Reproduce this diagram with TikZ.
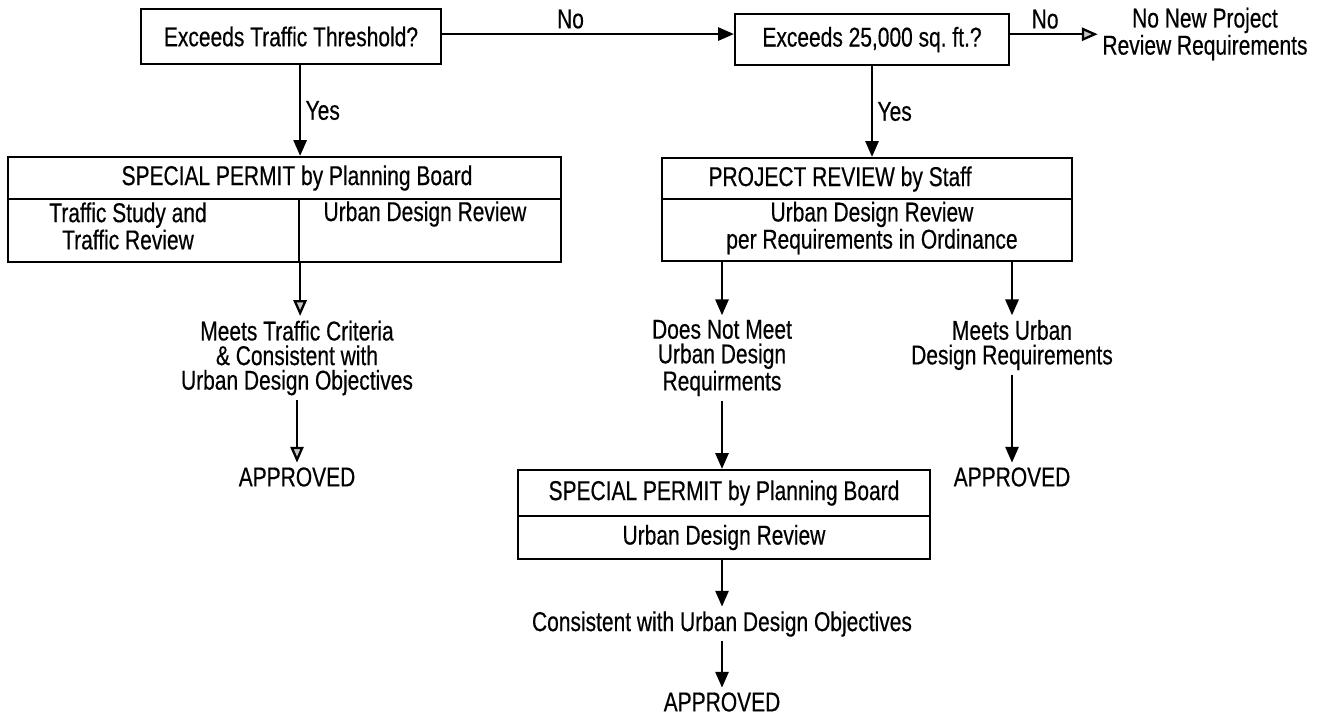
\documentclass[tikz,border=0pt]{standalone}
\usepackage{fontspec}
\setmainfont[FakeStretch=0.77,FakeBold=0.4]{Liberation Sans}
\usetikzlibrary{positioning,arrows.meta,calc}

\begin{document}
\begin{tikzpicture}[x=0.02cm, y=-0.02cm,
  box/.style={draw, line width=1.3pt, inner sep=0pt, align=center, font=\fontsize{15.5}{14}\selectfont},
  txt/.style={inner sep=2.5pt, align=center, font=\fontsize{15.5}{14}\selectfont},
  flow/.style={line width=1.3pt, -{Triangle[width=7.5pt,length=9pt]}},
  flowpale/.style={line width=1.3pt, -{Triangle[width=7.5pt,length=9pt,fill=gray!45]}}]
\useasboundingbox (0,0) rectangle (1317,718);

% Top row
\node[box, minimum width=6cm, minimum height=1.1cm] (thresh) at (291,36.5) {Exceeds Traffic Threshold?};
\node[box, minimum width=5.48cm, minimum height=1.02cm] (area) at (872,39.5) {Exceeds 25,000 sq.\ ft.?};
\node[txt] (nonew) at (1205,34) {No New Project\\Review Requirements};

% Special permit (left)
\node[box, minimum width=11.06cm, minimum height=0.84cm] (sp1) at (284.5,178) {};
\node[box, minimum width=5.82cm, minimum height=1.26cm] (tcell) at (153.5,230.5) {};
\node[box, minimum width=5.24cm, minimum height=1.26cm] (ucell) at (430,230.5) {};
\node[txt] (sp1txt) at (297,178) {SPECIAL PERMIT by Planning Board};
\node[txt] (ttxt) at (128,226) {Traffic Study and\\Traffic Review};
\node[txt] (utxt) at (425,214) {Urban Design Review};
\node[txt] (meets1) at (297,358) {Meets Traffic Criteria\\\& Consistent with\\Urban Design Objectives};
\node[txt] (appr1) at (297,477) {APPROVED};

% Project review (right)
\node[box, minimum width=8.2cm, minimum height=0.82cm] (pr) at (867,178.5) {};
\node[box, minimum width=8.2cm, minimum height=1.24cm] (pr2) at (867,230) {};
\node[txt] (prtxt) at (840,179) {PROJECT REVIEW by Staff};
\node[txt] (pr2txt) at (872,228) {Urban Design Review\\per Requirements in Ordinance};
\node[txt] (dnm) at (722,358) {Does Not Meet\\Urban Design\\Requirments};
\node[txt] (mudr) at (1012,345) {Meets Urban\\Design Requirements};
\node[txt] (appr2) at (1012,477) {APPROVED};

% Special permit (bottom)
\node[box, minimum width=8.24cm, minimum height=0.92cm] (sp2) at (724,493) {SPECIAL PERMIT by Planning Board};
\node[box, minimum width=8.24cm, minimum height=0.86cm] (sp2b) at (724,537.5) {Urban Design Review};
\node[txt] (cons) at (722,624) {Consistent with Urban Design Objectives};
\node[txt] (appr3) at (722,702) {APPROVED};

% Connectors
\draw[flow] ([yshift=1.4pt]thresh.east) -- node[txt, pos=.44, above] {No} ([yshift=1.4pt]thresh.east -| area.west);
\draw[flowpale] ([yshift=3pt]area.east) -- node[txt, pos=.4, above] {No} ([yshift=3pt]area.east -| nonew.west);
\draw[flow] (thresh.south -| tcell.east) -- node[txt, right] {Yes} (tcell.east |- sp1.north);
\draw[flow] (area.south) -- node[txt, right] {Yes} (area.south |- pr.north);
\draw[flowpale] (tcell.south east) -- (tcell.south east |- meets1.north);
\draw[flowpale] (meets1.south) -- (appr1.north);
\draw[flow] (pr2.south -| dnm.north) -- (dnm.north);
\draw[flow] (pr2.south -| mudr.north) -- (mudr.north);
\draw[flow] (dnm.south) -- (dnm.south |- sp2.north);
\draw[flow] (mudr.south) -- (mudr.south |- appr2.north);
\draw[flow] (sp2b.south -| cons.north) -- (cons.north);
\draw[flow] (cons.south) -- (appr3.north);
\end{tikzpicture}
\end{document}
